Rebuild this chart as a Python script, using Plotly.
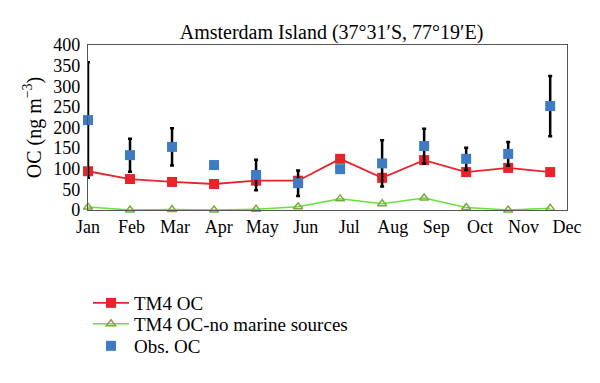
import plotly.graph_objects as go

months = ["Jan", "Feb", "Mar", "Apr", "May", "Jun", "Jul", "Aug", "Sep", "Oct", "Nov", "Dec"]
tm4_oc = [94, 75, 68, 63, 71, 71, 124, 78, 121, 92, 102, 92]
tm4_no_marine = [7, 0, 1, 0, 2, 8, 27, 15, 29, 6, 0, 4]
obs_oc = [218, 133, 153, 109, 85, 65, 99, 113, 155, 124, 136, 252]
obs_err = [140, 40, 45, 0, 37, 31, 0, 56, 42, 27, 29, 73]
series_names = ["TM4 OC", "TM4 OC-no marine sources", "Obs. OC"]

x = list(range(len(months)))
xmax = 11.4
tickpos = [i * xmax / (len(months) - 1) for i in x]

FONT = "Liberation Serif"
FONT_LIST = "Liberation Serif, Times New Roman, Times, serif"
legend_rows = [-0.5636, -0.6909, -0.8242]

fig = go.Figure()
fig.add_trace(go.Scatter(
    x=x, y=tm4_oc, name=series_names[0], mode="lines+markers",
    line=dict(color="#e8232a", width=1.8),
    marker=dict(symbol="square", size=10, color="#e8232a"),
    cliponaxis=False, legend="legend",
))
fig.add_trace(go.Scatter(
    x=x, y=tm4_no_marine, name=series_names[1], mode="lines+markers",
    line=dict(color="#66e03c", width=1.5),
    marker=dict(symbol="triangle-up-open", size=8, color="#7fa83a", line=dict(width=1.5)),
    cliponaxis=False, legend="legend2",
))
fig.add_trace(go.Scatter(
    x=x, y=obs_oc, name=series_names[2], mode="markers",
    marker=dict(symbol="square", size=10, color="#3d7cc4"),
    error_y=dict(type="data", array=obs_err, visible=True, color="black", thickness=2.5, width=2),
    cliponaxis=False, legend="legend3",
))

leg_common = dict(x=-0.0, xanchor="left", yanchor="middle",
                  font=dict(family=FONT_LIST, size=19, color="black"),
                  bgcolor="rgba(0,0,0,0)", borderwidth=0, itemwidth=36)

fig.update_layout(
    template="none",
    width=592, height=375,
    margin=dict(l=80, r=33, t=37, b=173),
    paper_bgcolor="white", plot_bgcolor="white",
    font=dict(family=FONT, size=18, color="black"),
    title=dict(text="Amsterdam Island (37°31′S, 77°19′E)", x=0.5465, xanchor="center",
               y=0.936, yanchor="middle", font=dict(family=FONT, size=20)),
    xaxis=dict(range=[0, xmax], tickvals=tickpos, ticktext=months, showgrid=False,
               zeroline=False, showline=True, linecolor="#555555", linewidth=1.2, mirror=True,
               ticks="", tickfont=dict(family=FONT, size=18)),
    yaxis=dict(range=[0, 400], dtick=50, showgrid=False, zeroline=False, showline=True,
               linecolor="#555555", linewidth=1.2, mirror=True, ticks="",
               ticklabelstandoff=3,
               tickfont=dict(family=FONT, size=18),
               title=dict(text="OC (ng m<sup>−3</sup>)", font=dict(family=FONT, size=20), standoff=6)),
    showlegend=True,
    legend=dict(y=legend_rows[0], **leg_common),
    legend2=dict(y=legend_rows[1], **leg_common),
    legend3=dict(y=legend_rows[2], **leg_common),
)

fig.write_html("out.html")
